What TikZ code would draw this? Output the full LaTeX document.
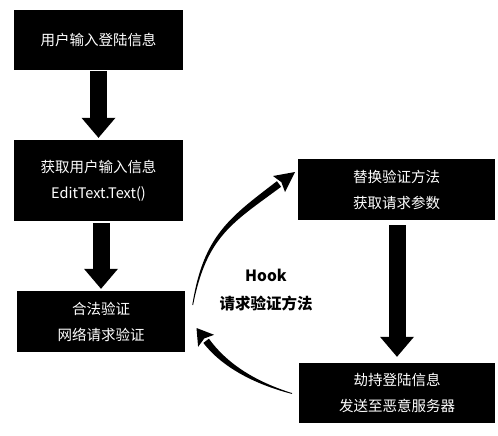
\documentclass[tikz,border=0pt]{standalone}
\usepackage{fontspec}
\setmainfont{Noto Sans CJK SC}
\usetikzlibrary{arrows.meta}
\tikzset{
  box/.style={fill=black, text=white, inner sep=0pt, align=center,
    font=\fontsize{14.5}{26}\selectfont},
  blockarrow/.style={line width=17pt, black,
    -{Triangle[width=34pt,length=20pt,line width=0pt]}},
  label/.style={align=center, font=\bfseries\fontsize{15.5}{28}\selectfont}
}
\begin{document}
\begin{tikzpicture}[x=1pt,y=-1pt]
\useasboundingbox (0,0) rectangle (498,436);
\fill[white] (0,0) rectangle (498,436);
\node[box, minimum width=169pt, minimum height=60pt] (b1) at (98.5,40) {用户输入登陆信息};
\node[box, minimum width=169pt, minimum height=81pt] (b2) at (98.5,180.5) {获取用户输入信息\\EditText.Text()};
\node[box, minimum width=168pt, minimum height=61pt] (b3) at (101,321.5) {合法验证\\网络请求验证};
\node[box, minimum width=197pt, minimum height=61pt] (b4) at (396.5,189.5) {替换验证方法\\获取请求参数};
\node[box, minimum width=196pt, minimum height=60pt] (b5) at (397,393) {劫持登陆信息\\发送至恶意服务器};
\node[label] (hook) at (266,290) {Hook\\请求验证方法};
% block arrows
\draw[blockarrow] ([yshift=-1pt]b1.south) -- ([yshift=2pt]b2.north);
\draw[blockarrow] ([yshift=-2pt]b2.south -| b3.north) -- ([yshift=2pt]b3.north);
\draw[blockarrow] ([yshift=-5pt]b4.south -| b5.north) -- ([yshift=6pt]b5.north);
% upper curved arrow (from b3 towards b4)
\fill (193.1,305.1) .. controls (206.4,236.3) and (232.9,222.5) .. (281.1,186.8)
  -- (276.9,181.2) .. controls (229.3,217.7) and (203.4,235.7) .. (192.3,304.9) -- cycle;
\fill (295,172) -- (273,176) -- (281.4,182.2) -- (285,192) -- cycle;
% lower curved arrow (from b5 towards b3)
\fill (292.1,393.1) .. controls (254.0,381.1) and (226.5,363.0) .. (208.9,338.7)
  -- (203.3,342.9) .. controls (221.7,366.6) and (253.2,383.9) .. (291.9,393.9) -- cycle;
\fill (196.5,328) -- (214.1,334.8) -- (204.3,338.4) -- (198.1,346.8) -- cycle;
\end{tikzpicture}
\end{document}
